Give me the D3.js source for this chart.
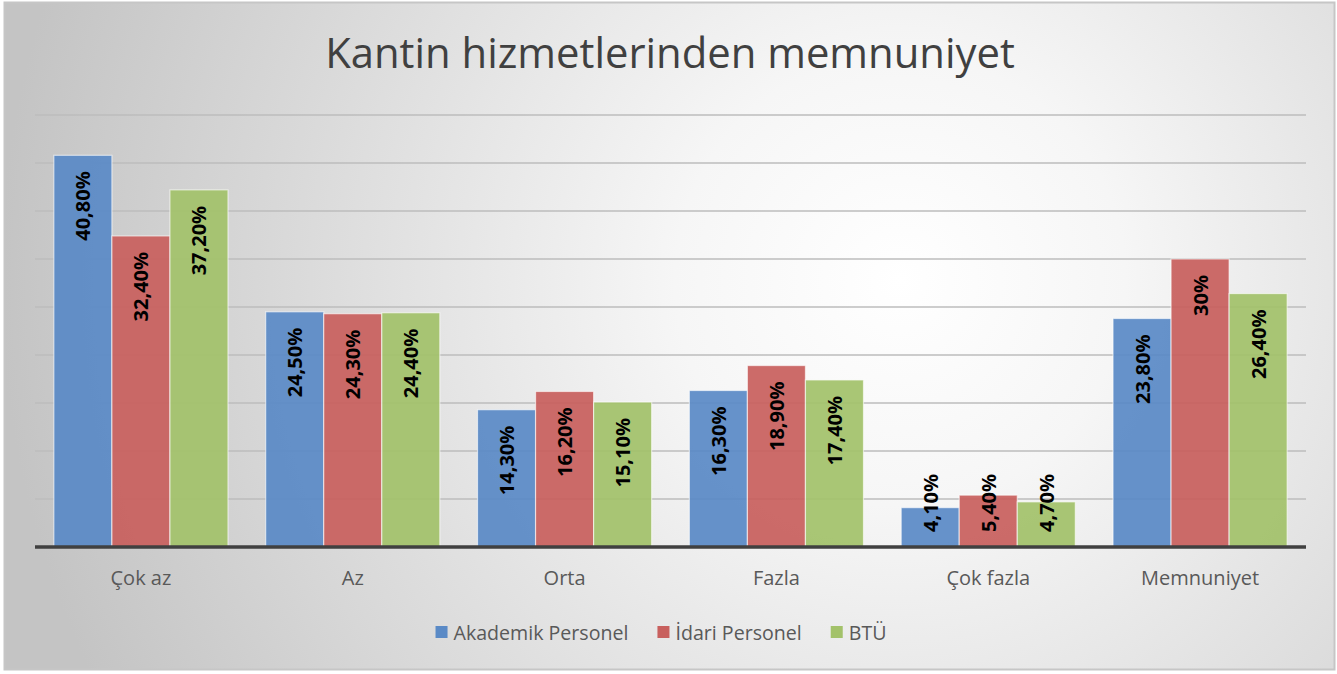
<!DOCTYPE html>
<html><head><meta charset="utf-8">
<script src="https://cdn.jsdelivr.net/npm/d3@7"></script>
<style>html,body{margin:0;padding:0;background:#fff;}svg{display:block;}</style>
</head><body>
<svg id="chart" width="1337" height="674"></svg>
<script>
const categories = ["Çok az", "Az", "Orta", "Fazla", "Çok fazla", "Memnuniyet"];
const seriesNames = ["Akademik Personel", "İdari Personel", "BTÜ"];
const akademik = [40.8, 24.5, 14.3, 16.3, 4.1, 23.8];
const idari = [32.4, 24.3, 16.2, 18.9, 5.4, 30];
const btu = [37.2, 24.4, 15.1, 17.4, 4.7, 26.4];
const labelsAkademik = ["40,80%", "24,50%", "14,30%", "16,30%", "4,10%", "23,80%"];
const labelsIdari = ["32,40%", "24,30%", "16,20%", "18,90%", "5,40%", "30%"];
const labelsBtu = ["37,20%", "24,40%", "15,10%", "17,40%", "4,70%", "26,40%"];
const gridTicks = [0, 5, 10, 15, 20, 25, 30, 35, 40, 45];
const colors = ["#5a8ac6", "#c8605e", "#a3c26a"];
const title = "Kantin hizmetlerinden memnuniyet";

const series = [
  {name: seriesNames[0], values: akademik, labels: labelsAkademik, color: colors[0]},
  {name: seriesNames[1], values: idari, labels: labelsIdari, color: colors[1]},
  {name: seriesNames[2], values: btu, labels: labelsBtu, color: colors[2]}
];

const svg = d3.select("#chart");
const font = "'Open Sans', sans-serif";

const defs = svg.append("defs");
const rg = defs.append("radialGradient").attr("id", "bg")
  .attr("gradientUnits", "userSpaceOnUse")
  .attr("cx", 900).attr("cy", 280).attr("r", 900);
rg.append("stop").attr("offset", "0").attr("stop-color", "#ffffff");
rg.append("stop").attr("offset", "0.25").attr("stop-color", "#f6f6f6");
rg.append("stop").attr("offset", "1").attr("stop-color", "#c4c4c4");

svg.append("rect").attr("x", 4.5).attr("y", 2.5).attr("width", 1330).attr("height", 667)
  .attr("fill", "url(#bg)").attr("stroke", "#c6c6c6").attr("stroke-width", 2);

const x0 = d3.scaleBand().domain(categories).range([35, 1306]).paddingInner(0.178).paddingOuter(0.089);
const x1 = d3.scaleBand().domain(seriesNames).range([0, x0.bandwidth()]);
const y = d3.scaleLinear().domain([0, 45]).range([547, 115]);

// gridlines
svg.append("g").selectAll("line").data(gridTicks.filter(t => t > 0)).join("line")
  .attr("x1", 35).attr("x2", 1306)
  .attr("y1", d => y(d)).attr("y2", d => y(d))
  .attr("stroke", "#bdbdbd").attr("stroke-width", 1.5);

// title
svg.append("text").attr("x", 670).attr("y", 68).attr("text-anchor", "middle")
  .attr("font-family", font).attr("font-size", 41.8).attr("fill", "#404040").text(title);

// bars
const groups = svg.append("g").selectAll("g").data(series).join("g");
groups.selectAll("rect").data(s => s.values.map((v, i) => ({v, i, s}))).join("rect")
  .attr("x", d => x0(categories[d.i]) + x1(d.s.name))
  .attr("width", x1.bandwidth())
  .attr("y", d => y(d.v))
  .attr("height", d => y(0) - y(d.v))
  .attr("fill", d => d.s.color).attr("fill-opacity", 0.93)
  .attr("stroke", "rgba(255,255,255,0.6)").attr("stroke-width", 1.2);

// axis baseline
const xAxis = svg.append("g").attr("transform", `translate(0,${y(0)})`)
  .call(d3.axisBottom(x0).tickSize(0).tickPadding(24));
xAxis.select(".domain").attr("d", "M35,0H1306").attr("stroke", "#404040").attr("stroke-width", 3.5);
xAxis.selectAll("text").attr("font-family", font).attr("font-size", 20).attr("fill", "#595959");

// data labels
const lab = svg.append("g");
series.forEach(s => {
  s.values.forEach((v, i) => {
    const cx = x0(categories[i]) + x1(s.name) + x1.bandwidth() / 2;
    const t = lab.append("text")
      .attr("font-family", font).attr("font-weight", 700).attr("font-size", 20)
      .attr("fill", "#000").attr("text-anchor", "end").attr("dominant-baseline", "central")
      .text(s.labels[i]);
    const len = t.node().getComputedTextLength();
    let top = y(v) + 16;
    if (top + len > y(0) - 15) top = y(0) - 15 - len;
    t.attr("transform", `translate(${cx},${top}) rotate(-90)`);
  });
});

// legend
const leg = svg.append("g");
let lx = 0;
series.forEach(s => {
  const g = leg.append("g").attr("transform", `translate(${lx},0)`);
  g.append("rect").attr("x", 0).attr("y", -6).attr("width", 12).attr("height", 12).attr("fill", s.color);
  const t = g.append("text").attr("x", 18).attr("y", 0).attr("dominant-baseline", "central")
    .attr("font-family", font).attr("font-size", 19.6).attr("fill", "#595959").text(s.name);
  lx += 18 + t.node().getComputedTextLength() + 29;
});
const legW = lx - 29;
leg.attr("transform", `translate(${661 - legW / 2},632)`);
</script>
</body></html>
